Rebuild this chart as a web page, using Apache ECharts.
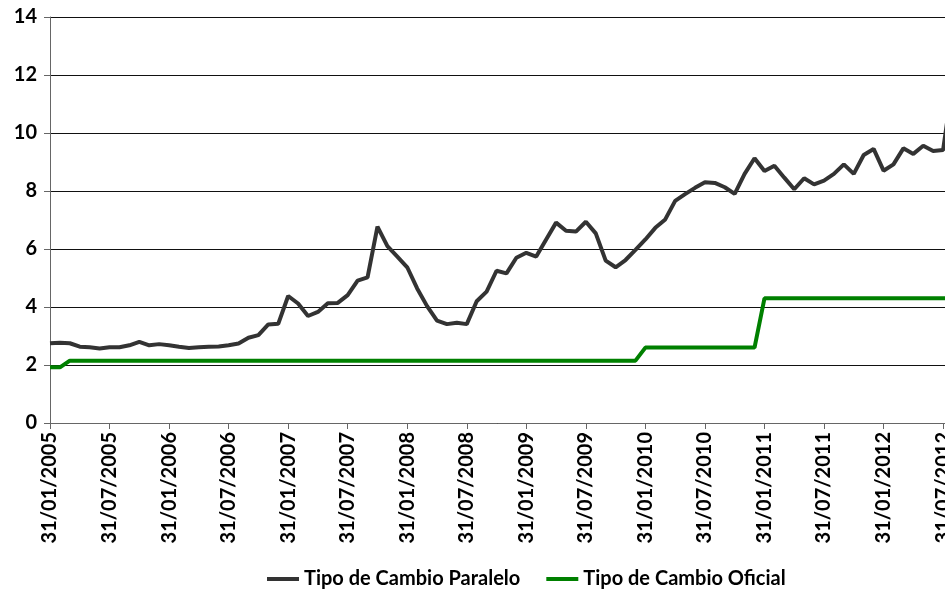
<!DOCTYPE html>
<html lang="es">
<head>
    <meta charset="UTF-8">
    <title>Tipo de Cambio</title>
    <script type="text/javascript" src="https://cdn.jsdelivr.net/npm/echarts@6/dist/echarts.min.js"></script>
</head>
<body style="margin:0;background:#fff;">
    <div id="main" style="width: 945px;height:589px;"></div>
    <script type="text/javascript">

        // meses desde 31/01/2005 hasta 31/08/2012 (fin de mes)
        var firstYear = 2005;
        var monthCount = 92;

        // Tipo de Cambio Paralelo (Bs/US$)
        var paralelo = [
            2.75, 2.77, 2.75, 2.63, 2.61, 2.57, 2.61, 2.61, 2.68, 2.80, 2.68, 2.72,
            2.68, 2.63, 2.59, 2.61, 2.63, 2.64, 2.68, 2.74, 2.94, 3.03, 3.40, 3.42,
            4.38, 4.12, 3.69, 3.83, 4.13, 4.14, 4.41, 4.91, 5.02, 6.77, 6.10, 5.74,
            5.37, 4.64, 4.03, 3.53, 3.41, 3.46, 3.41, 4.20, 4.53, 5.25, 5.16, 5.70,
            5.87, 5.74, 6.33, 6.91, 6.63, 6.60, 6.94, 6.54, 5.60, 5.37, 5.62, 5.97,
            6.33, 6.73, 7.02, 7.66, 7.89, 8.11, 8.30, 8.28, 8.13, 7.90, 8.59, 9.13,
            8.69, 8.87, 8.46, 8.06, 8.44, 8.23, 8.36, 8.59, 8.92, 8.59, 9.24, 9.45,
            8.70, 8.92, 9.47, 9.28, 9.56, 9.38, 9.41, 11.8
        ];

        // Tipo de Cambio Oficial (Bs/US$)
        var oficial = [
            1.92, 1.92, 2.15, 2.15, 2.15, 2.15, 2.15, 2.15, 2.15, 2.15, 2.15, 2.15,
            2.15, 2.15, 2.15, 2.15, 2.15, 2.15, 2.15, 2.15, 2.15, 2.15, 2.15, 2.15,
            2.15, 2.15, 2.15, 2.15, 2.15, 2.15, 2.15, 2.15, 2.15, 2.15, 2.15, 2.15,
            2.15, 2.15, 2.15, 2.15, 2.15, 2.15, 2.15, 2.15, 2.15, 2.15, 2.15, 2.15,
            2.15, 2.15, 2.15, 2.15, 2.15, 2.15, 2.15, 2.15, 2.15, 2.15, 2.15, 2.15,
            2.60, 2.60, 2.60, 2.60, 2.60, 2.60, 2.60, 2.60, 2.60, 2.60, 2.60, 2.60,
            4.30, 4.30, 4.30, 4.30, 4.30, 4.30, 4.30, 4.30, 4.30, 4.30, 4.30, 4.30,
            4.30, 4.30, 4.30, 4.30, 4.30, 4.30, 4.30, 4.30
        ];

        var seriesNames = ['Tipo de Cambio Paralelo', 'Tipo de Cambio Oficial'];

        // etiquetas del eje x: último día de cada mes
        var fechas = [];
        for (var i = 0; i < monthCount; i++) {
            var y = firstYear + Math.floor(i / 12);
            var m = i % 12 + 1;
            var d = new Date(y, m, 0).getDate();
            fechas.push(d + '/' + (m < 10 ? '0' + m : m) + '/' + y);
        }

        var fuente = 'Lato, "Open Sans", sans-serif';

        var myChart = echarts.init(document.getElementById('main'));

        var option = {
            animation: false,
            backgroundColor: '#fff',
            // el área del gráfico sigue más allá del borde derecho (como en el original recortado)
            grid: {
                left: 50,
                top: 17,
                width: 903,
                bottom: 166,
                outerBoundsMode: 'none',
                containLabel: false
            },
            legend: {
                data: seriesNames,
                top: 564,
                left: 262,
                icon: 'rect',
                itemWidth: 32,
                itemHeight: 4,
                itemGap: 26,
                textStyle: {
                    fontFamily: fuente,
                    fontWeight: 'bold',
                    fontSize: 20,
                    color: '#000'
                }
            },
            xAxis: {
                type: 'category',
                boundaryGap: false,
                data: fechas,
                axisLine: { lineStyle: { color: '#666', width: 1 } },
                axisTick: {
                    interval: 5,
                    length: 6,
                    lineStyle: { color: '#666' }
                },
                axisLabel: {
                    interval: 5,
                    rotate: 90,
                    margin: 9,
                    fontFamily: fuente,
                    fontWeight: 'bold',
                    fontSize: 20,
                    color: '#000'
                },
                splitLine: { show: false }
            },
            yAxis: {
                type: 'value',
                min: 0,
                max: 14,
                interval: 2,
                axisLine: { show: true, lineStyle: { color: '#666', width: 1 } },
                axisTick: { show: true, length: 6, lineStyle: { color: '#666' } },
                axisLabel: {
                    margin: 13,
                    fontFamily: fuente,
                    fontWeight: 'bold',
                    fontSize: 20,
                    color: '#000'
                },
                splitLine: { lineStyle: { color: '#111', width: 1 } }
            },
            series: [
                {
                    name: seriesNames[0],
                    type: 'line',
                    data: paralelo,
                    symbol: 'none',
                    color: '#333333',
                    lineStyle: { width: 4, color: '#333333' }
                },
                {
                    name: seriesNames[1],
                    type: 'line',
                    data: oficial,
                    symbol: 'none',
                    color: '#008000',
                    lineStyle: { width: 4, color: '#008000' }
                }
            ]
        };

        myChart.setOption(option);
    </script>
</body>
</html>
